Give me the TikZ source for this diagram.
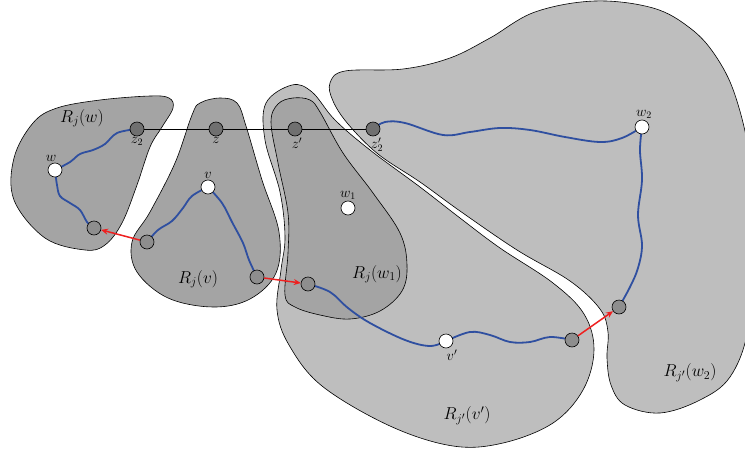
\documentclass[tikz,border=0pt]{standalone}
\usepackage{amsmath,amssymb}
\usepackage{tikz}
\usetikzlibrary{arrows.meta,backgrounds}
\definecolor{regdark}{RGB}{164,164,164}
\definecolor{reglight}{RGB}{190,190,190}
\definecolor{pathblue}{RGB}{47,79,160}
\definecolor{hopred}{RGB}{238,32,32}
\definecolor{cutgrey}{RGB}{112,112,112}
\definecolor{portgrey}{RGB}{142,142,142}

\begin{document}
\begin{tikzpicture}[x=1pt, y=-1pt,
    regionline/.style={draw=black, line width=0.6pt},
    darkreg/.style={regionline, fill=regdark},
    lightreg/.style={regionline, fill=reglight},
    vtx/.style={circle, draw=black, line width=0.6pt, inner sep=0pt, minimum size=14pt},
    cutvtx/.style={vtx, fill=cutgrey},
    portvtx/.style={vtx, fill=portgrey},
    rootvtx/.style={vtx, fill=white},
    vlabel/.style={font=\Large, inner sep=1pt},
    rlabel/.style={font=\LARGE},
    route/.style={pathblue, line width=1.8pt, line cap=round},
    hop/.style={hopred, line width=1.5pt, -{Stealth[length=7pt,width=6pt]}}
]
    \useasboundingbox (0,0) rectangle (745,453);
    \clip (0,0) rectangle (745,453);

    % vertices
    \node[cutvtx, label={[vlabel]below:$z_2$}] (z2) at (137,129) {};
    \node[cutvtx, label={[vlabel]below:$z$}] (z) at (216,129) {};
    \node[cutvtx, label={[vlabel, xshift=2pt]below:$z'$}] (zp) at (295,129) {};
    \node[cutvtx, label={[vlabel, xshift=4pt]below:$z'_2$}] (z2p) at (373,129) {};

    \node[rootvtx, label={[vlabel, xshift=-4pt]above:$w$}] (w) at (55,170) {};
    \node[rootvtx, label={[vlabel]above:$v$}] (v) at (208,187) {};
    \node[rootvtx, label={[vlabel]above:$w_1$}] (wa) at (348,208) {};
    \node[rootvtx, label={[vlabel, xshift=2pt]above:$w_2$}] (wb) at (642,127) {};
    \node[rootvtx, label={[vlabel, xshift=6pt]below:$v'$}] (vp) at (446,341) {};

    \node[portvtx] (p1) at (94,228) {};
    \node[portvtx] (p2) at (147,242) {};
    \node[portvtx] (p3) at (257,277) {};
    \node[portvtx] (p4) at (308,284) {};
    \node[portvtx] (p5) at (572,340) {};
    \node[portvtx] (p6) at (619,307) {};

    % region names
    \node[rlabel] (lw) at (82,118) {$R_j(w)$};
    \node[rlabel] (lv) at (198,279) {$R_j(v)$};
    \node[rlabel] (lwa) at (377,274) {$R_j(w_1)$};
    \node[rlabel] (lvp) at (467,416) {$R_{j'}(v')$};
    \node[rlabel] (lwb) at (690,373) {$R_{j'}(w_2)$};

    \begin{scope}[on background layer]
        % regions
        \draw[lightreg] plot[smooth cycle, tension=0.6] coordinates {
            (330,83) (345,71) (403,69) (450,58) (490,38) (535,12) (595,1)
            (653,8) (690,28) (715,55) (735,95) (750,160) (755,250) (748,330)
            (730,377) (700,400) (660,413) (625,405) (611,385) (607,358)
            (608,332) (600,309) (570,281) (517,250) (460,211) (420,182)
            (378,154) (348,124) (333,101)};
        \draw[lightreg] plot[smooth cycle, tension=0.6] coordinates {
            (292,85) (312,92) (335,120) (370,150) (420,187) (460,218)
            (500,248) (553,283) (584,314) (594,350) (583,390) (553,423)
            (503,443) (453,446) (390,426) (322,386) (289,345) (277,310)
            (281,270) (285,237) (280,192) (265,140) (266,103)};
        \draw[darkreg] plot[smooth cycle, tension=0.6] coordinates {
            (293,98) (310,100) (320,112) (343,153) (373,193) (400,233)
            (407,265) (402,291) (380,311) (350,319) (320,315) (295,307)
            (285,295) (288,253) (288,213) (278,163) (271,122) (278,104)};
        \draw[darkreg] plot[smooth cycle, tension=0.6] coordinates {
            (33,123) (57,108) (100,100) (150,96) (169,98) (173,108)
            (162,127) (150,147) (137,185) (122,223) (105,245) (85,250)
            (45,238) (14,200) (14,158)};
        \draw[darkreg] plot[smooth cycle, tension=0.6] coordinates {
            (200,103) (220,98) (237,103) (246,126) (262,180) (279,232)
            (276,273) (250,299) (213,307) (168,298) (137,272) (132,242)
            (150,212) (175,163) (192,115)};

        % cut line
        \draw[line width=0.6pt] (z2) -- (z2p);

        % paths
        \draw[route] plot[smooth, tension=0.6] coordinates {
            (z2) (117,133) (105,144) (93,150) (80,154) (70,162) (w)};
        \draw[route] plot[smooth, tension=0.6] coordinates {
            (w) (57,185) (60,196) (70,203) (80,210) (87,222) (p1)};
        \draw[route] plot[smooth, tension=0.6] coordinates {
            (p2) (158,230) (172,221) (183,208) (192,196) (v)};
        \draw[route] plot[smooth, tension=0.6] coordinates {
            (v) (222,203) (232,222) (243,243) (249,260) (p3)};
        \draw[route] plot[smooth, tension=0.6] coordinates {
            (p4) (330,292) (348,308) (370,323) (405,340) (430,346) (vp)};
        \draw[route] plot[smooth, tension=0.6] coordinates {
            (vp) (470,332) (490,335) (510,342) (530,342) (550,337) (p5)};
        \draw[route] plot[smooth, tension=0.6] coordinates {
            (p6) (630,287) (638,268) (642,245) (638,215) (642,180) (640,150) (wb)};
        \draw[route] plot[smooth, tension=0.6] coordinates {
            (z2p) (385,122) (405,123) (443,135) (470,132) (500,128) (530,130)
            (565,137) (600,142) (622,138) (wb)};
    \end{scope}

    % jumps between regions
    \draw[hop] (p2) -- (p1);
    \draw[hop] (p3) -- (p4);
    \draw[hop] (p5) -- (p6);
\end{tikzpicture}
\end{document}
